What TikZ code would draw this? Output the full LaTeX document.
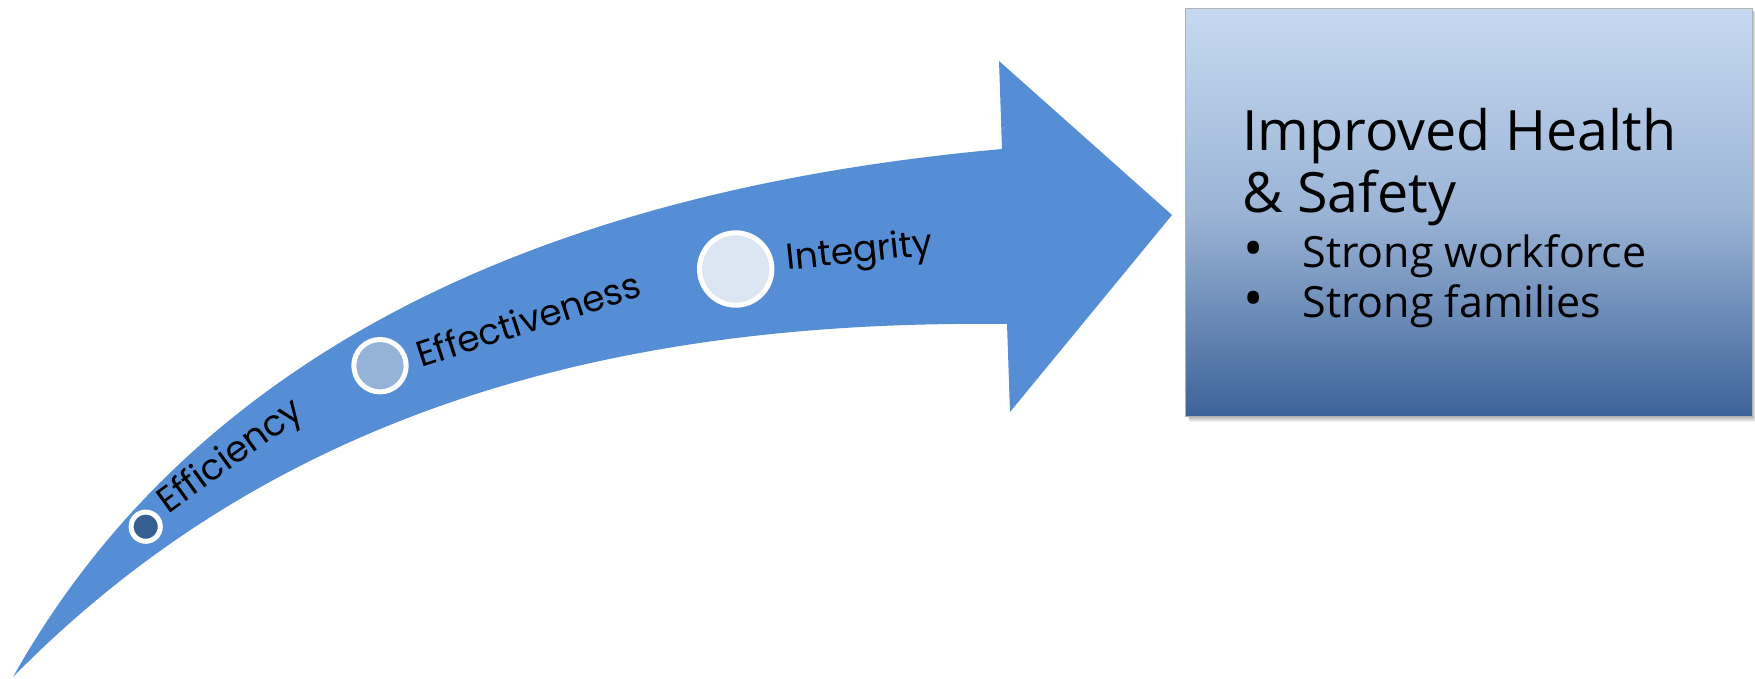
\documentclass[tikz,border=0pt]{standalone}
\usepackage{fontspec}
\setmainfont{Open Sans}
\newfontfamily\stagefont{Poppins}
\definecolor{arrowblue}{RGB}{85,142,213}
\definecolor{stageone}{RGB}{54,96,146}
\definecolor{stagetwo}{RGB}{149,179,215}
\definecolor{stagethree}{RGB}{220,230,242}
\definecolor{boxtop}{RGB}{198,217,241}
\definecolor{boxmid}{RGB}{155,180,214}
\definecolor{boxbottom}{RGB}{60,99,153}
\begin{document}
\begin{tikzpicture}[x=0.5pt,y=-0.5pt,
		stage/.style={circle, draw=white, line width=2.5pt, inner sep=0pt},
		stagelabel/.style={inner sep=0pt, anchor=base west, font=\stagefont\fontsize{18}{21}\selectfont},
		boxline/.style={inner sep=0pt, anchor=base west, font=\fontsize{21.5}{25}\selectfont},
		boxbullet/.style={inner sep=0pt, anchor=base west, font=\fontsize{27}{30}\selectfont}]
		\useasboundingbox (0,0) rectangle (1755,679);
		\fill [arrowblue] (13,677) .. controls (230,290) and (660,180) .. (1002,149) -- (999,61) -- (1172,215) -- (1010,412) -- (1007,324) .. controls (645,320) and (290,395) .. (13,677) -- cycle;
		\node [stage, fill=stageone, minimum size=14.6pt] (efficiency) at (145.7,526.7) {};
		\node [stage, fill=stagetwo, minimum size=26.2pt] (effectiveness) at (380,365.7) {};
		\node [stage, fill=stagethree, minimum size=36.2pt] (integrity) at (735.7,269) {};
		\node [stagelabel, rotate=36] (efficiencytext) at (168,515) {Efficiency};
		\node [stagelabel, rotate=18] (effectivenesstext) at (421,368) {Effectiveness};
		\node [stagelabel, rotate=6] (integritytext) at (787,270) {Integrity};
		\foreach \s in {1,...,6}
			\fill [black, opacity=0.06] (1187+\s*0.4,11) rectangle (1752.5+\s*0.4,416+\s);
		\node [draw=black!30, line width=0.5pt, top color=boxtop, bottom color=boxbottom, middle color=boxmid, minimum width=283.5pt, minimum height=203.75pt, inner sep=0pt] (outcome) at (1469,212.25) {};
		\node [boxline, font=\fontsize{27.8}{31}\selectfont] (title) at (1242,151) {Improved Health};
		\node [boxline, font=\fontsize{27.8}{31}\selectfont] (titletwo) at (1242,213) {\& Safety};
		\node [boxbullet] (bulletone) at (1243,267) {•};
		\node [boxline] (workforce) at (1302,267) {Strong workforce};
		\node [boxbullet] (bullettwo) at (1243,317) {•};
		\node [boxline] (families) at (1302,317) {Strong families};
\end{tikzpicture}
\end{document}
